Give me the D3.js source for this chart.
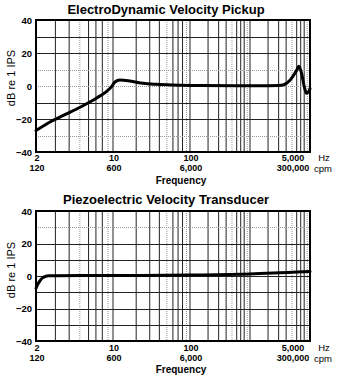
<!DOCTYPE html>
<html>
<head>
<meta charset="utf-8">
<script src="https://cdn.jsdelivr.net/npm/d3@7"></script>
<style>
  html, body { margin: 0; padding: 0; background: #fff; }
  svg { display: block; }
  text { font-family: "Liberation Sans", Arial, sans-serif; fill: #000; }
</style>
</head>
<body>
<svg id="chart" width="341" height="376"></svg>
<script>
// Frequency response of two vibration sensors (dB re 1 IPS vs. frequency in Hz)
const titles = ["ElectroDynamic Velocity Pickup", "Piezoelectric Velocity Transducer"];

const edFreq = [2, 2.68, 3.54, 5.02, 7.1, 8.77, 9.6, 10.6, 12.3, 16.6, 24.7, 36.9, 60.6, 150, 600, 2000, 3000, 3548, 4642, 5995, 6540, 7300, 7990, 8720, 9530, 10000];
const edDb   = [-27, -21.8, -17.8, -12.9, -7.3, -3.2, -0.8, 2.4, 3.6, 3.0, 1.6, 1.0, 0.6, 0.3, 0.2, 0.2, 0.3, 0.6, 3.5, 9.5, 12, 7, 0, -4.4, -3.5, -1.5];

const pzFreq = [2, 2.08, 2.17, 2.27, 2.41, 2.6, 3, 10, 100, 1000, 5000, 10000];
const pzDb   = [-7.6, -5, -3, -1.4, -0.4, 0.1, 0.2, 0.3, 0.6, 1.2, 2.3, 2.7];

const freqTicks = [2, 10, 100, 5000];
const hzLabels  = ["2", "10", "100", "5,000"];
const cpmLabels = ["120", "600", "6,000", "300,000"];
const dbTicks   = [40, 20, 0, -20, -40];
const dbTickLabels = ["40", "20", "0", "\u221220", "\u221240"];

// minor frequency grid: multiples within each decade
const gridFreqs = [];
[1, 10, 100, 1000].forEach(dec => {
  for (let m = 1; m <= 9; m++) {
    const f = m * dec;
    if (f > 2 && f < 10000) gridFreqs.push({ f, m });
  }
});
const gridDb = [30, 20, 10, 0, -10, -20, -30];

const svg = d3.select("#chart");

function panel(cfg) {
  const { top, bottom, title, titleY, freq, db, dottedDb, labelY, freqY, ylabY } = cfg;
  const x = d3.scaleLog().domain([2, 10, 100, 10000]).range([36, 113, 190, 310]);
  const y = d3.scaleLinear().domain([-40, 40]).range([bottom, top]);
  const g = svg.append("g");

  // title
  g.append("text").attr("x", 166).attr("y", titleY).attr("text-anchor", "middle")
    .attr("font-size", 13).attr("font-weight", "bold").text(title);

  // vertical grid
  g.selectAll(".vg").data(gridFreqs).join("line")
    .attr("x1", d => x(d.f)).attr("x2", d => x(d.f))
    .attr("y1", top).attr("y2", bottom)
    .attr("stroke", d => (d.m === 5 || d.m === 9) ? "#999" : "#222")
    .attr("stroke-width", 1)
    .attr("stroke-dasharray", d => (d.m === 5 || d.m === 9) ? "1,1" : null);

  // horizontal grid
  g.selectAll(".hg").data(gridDb).join("line")
    .attr("x1", 36).attr("x2", 310)
    .attr("y1", d => Math.round(y(d)) + 0.5).attr("y2", d => Math.round(y(d)) + 0.5)
    .attr("stroke", d => dottedDb.includes(d) ? "#999" : "#222")
    .attr("stroke-width", 1)
    .attr("stroke-dasharray", d => dottedDb.includes(d) ? "1,1" : null);

  // frame
  g.append("rect").attr("x", x(2)).attr("y", top)
    .attr("width", x(10000) - x(2)).attr("height", bottom - top)
    .attr("fill", "none").attr("stroke", "#000").attr("stroke-width", 2);

  // response curve
  const line = d3.line().x(d => x(d[0])).y(d => y(d[1])).curve(d3.curveMonotoneX);
  g.append("path").datum(d3.zip(freq, db)).attr("d", line)
    .attr("fill", "none").attr("stroke", "#000").attr("stroke-width", 3)
    .attr("stroke-linejoin", "round").attr("stroke-linecap", "round");

  // y tick labels
  g.selectAll(".yl").data(dbTicks).join("text")
    .attr("x", 32).attr("y", d => y(d) + 3.5).attr("text-anchor", "end")
    .attr("font-size", 9.5).attr("font-weight", "bold")
    .text((d, i) => dbTickLabels[i]);

  // x tick labels (Hz and cpm rows)
  g.selectAll(".xl").data(freqTicks).join("text")
    .attr("x", d => x(d) + 1).attr("y", labelY).attr("text-anchor", "middle")
    .attr("font-size", 9).attr("font-weight", "bold")
    .text((d, i) => hzLabels[i]);
  g.selectAll(".xl2").data(freqTicks).join("text")
    .attr("x", d => x(d) + 1).attr("y", labelY + 10).attr("text-anchor", "middle")
    .attr("font-size", 9).attr("font-weight", "bold")
    .text((d, i) => cpmLabels[i]);
  g.append("text").attr("x", 324).attr("y", labelY - 0.5).attr("text-anchor", "middle")
    .attr("font-size", 9.5).text("Hz");
  g.append("text").attr("x", 323).attr("y", labelY + 10.5).attr("text-anchor", "middle")
    .attr("font-size", 9.5).text("cpm");

  // axis titles
  g.append("text").attr("x", 181).attr("y", freqY).attr("text-anchor", "middle")
    .attr("font-size", 10).attr("font-weight", "bold").text("Frequency");
  g.append("text")
    .attr("transform", `translate(15,${ylabY}) rotate(-90)`)
    .attr("text-anchor", "middle").attr("font-size", 11).text("dB  re  1  IPS");
}

panel({ top: 20, bottom: 152, title: titles[0], titleY: 14, freq: edFreq, db: edDb,
        dottedDb: [10, 0, -30], labelY: 161, freqY: 184, ylabY: 78 });
panel({ top: 211, bottom: 341, title: titles[1], titleY: 204, freq: pzFreq, db: pzDb,
        dottedDb: [30], labelY: 351, freqY: 373, ylabY: 270 });
</script>
</body>
</html>
